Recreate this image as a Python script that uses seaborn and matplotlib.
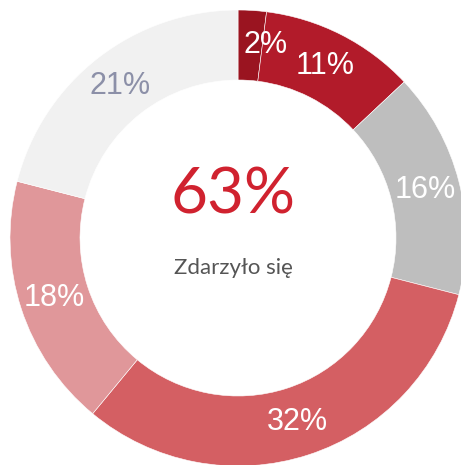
import matplotlib
matplotlib.use("Agg")
import matplotlib.pyplot as plt
import seaborn as sns

categories = ["A", "B", "C", "D", "E", "F"]
values = [2, 11, 16, 32, 18, 21]
labels = ["2%", "11%", "16%", "32%", "18%", "21%"]
colors = ["#9A1420", "#B21B2A", "#BEBEBE", "#D45F63", "#E0979A", "#F1F1F1"]
label_colors = ["white", "white", "white", "white", "white", "#8C90A8"]
center_value = "63%"
center_text = "Zdarzyło się"

sns.set_theme(style="white")
plt.rcParams['font.family'] = ['Liberation Sans', 'DejaVu Sans']

W, H = 461, 465
fig = plt.figure(figsize=(W / 100, H / 100), dpi=100)
ax = fig.add_axes([0, 0, 1, 1])

cx, cy = 238, H - 238
R, ring = 228, 70

wedges, texts = ax.pie(values, colors=colors, startangle=90, counterclock=False,
                       center=(cx, cy), radius=R, frame=True,
                       wedgeprops=dict(width=ring, edgecolor="white", linewidth=0.4),
                       labels=labels, labeldistance=(R - ring / 2) / R,
                       textprops=dict(fontsize=22, ha="center", va="center"))
ax.set_xlim(0, W)
ax.set_ylim(0, H)
ax.axis("off")
for t, c in zip(texts, label_colors):
    t.set_color(c)
# nudge the tiny slice label right so it fits
x, y = texts[0].get_position()
texts[0].set_position((x + 15, y))

ax.text(233, H - 196, center_value, ha="center", va="center", fontsize=46,
        color="#D0222F", family=["Lato", "DejaVu Sans"], fontweight="normal")
ax.text(233, H - 268, center_text, ha="center", va="center", fontsize=16,
        color="#555555", family=["Lato", "DejaVu Sans"])

fig.savefig("out.png", dpi=100)
